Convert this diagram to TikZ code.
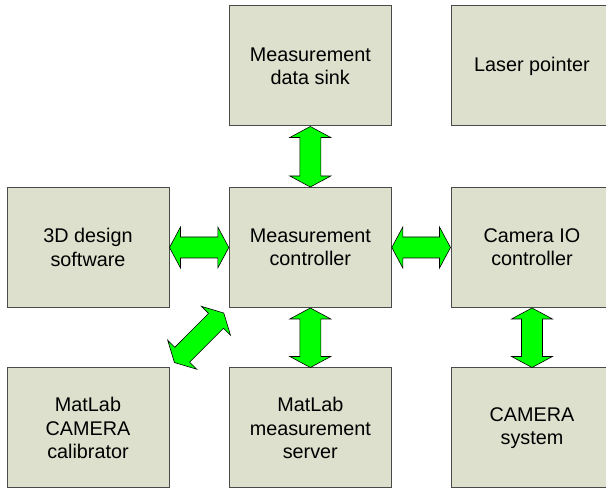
\documentclass[tikz,border=0pt]{standalone}
\usepackage{fontspec}
\setmainfont{Liberation Sans}
\usetikzlibrary{calc}

\definecolor{boxfill}{HTML}{DDE0CC}
\definecolor{boxline}{HTML}{4A4A4A}
\definecolor{arrowgreen}{HTML}{00FF00}

\tikzset{
  block/.style={draw=boxline, line width=1pt, fill=boxfill,
    minimum width=162pt, minimum height=120pt, inner sep=0pt,
    align=center, font=\fontsize{19.8}{23.3}\selectfont},
  fatarrow/.style={draw=black, line width=0.6pt, fill=arrowgreen, line join=miter}
}

% Block double arrow from #1 to #2: shaft 21pt wide, heads 41pt wide and 11pt long
\newcommand{\fatarrow}[2]{%
  \draw[fatarrow] let \p1=(#1), \p2=(#2),
      \n1={atan2(\y2-\y1,\x2-\x1)}, \n2={veclen(\x2-\x1,\y2-\y1)} in
    [shift={(\p1)}, rotate=\n1]
    (0pt,0pt) -- (11pt,20.5pt) -- (11pt,10.5pt) -- (\n2-11pt,10.5pt)
    -- (\n2-11pt,20.5pt) -- (\n2,0pt) -- (\n2-11pt,-20.5pt)
    -- (\n2-11pt,-10.5pt) -- (11pt,-10.5pt) -- (11pt,-20.5pt) -- cycle;}

\begin{document}
\begin{tikzpicture}[x=1pt,y=1pt]
\useasboundingbox (0,0) rectangle (606,489);

% top row
\node[block] (sink)   at (310.3,423) {Measurement\\data sink};
\node[block] (laser)  at (532,423)   {Laser pointer};
% middle row
\node[block] (design) at (88,241.5)  {3D design\\software};
\node[block] (ctrl)   at (310.3,241.5) {Measurement\\controller};
\node[block] (camio)  at (532,241.5) {Camera IO\\controller};
% bottom row
\node[block] (calib)  at (88,61)     {MatLab\\CAMERA\\calibrator};
\node[block] (server) at (310.3,61)  {MatLab\\measurement\\server};
\node[block] (camsys) at (532,61)    {CAMERA\\system};

% connections
\fatarrow{sink.south}{ctrl.north}
\fatarrow{design.east}{ctrl.west}
\fatarrow{ctrl.east}{camio.west}
\fatarrow{ctrl.south}{server.north}
\fatarrow{camio.south}{camsys.north}
\coordinate (dgA) at ($(calib.north east)!7pt!(ctrl.south west)$);
\coordinate (dgB) at ($(ctrl.south west)!7pt!(calib.north east)$);
\fatarrow{dgA}{dgB}
\end{tikzpicture}
\end{document}
